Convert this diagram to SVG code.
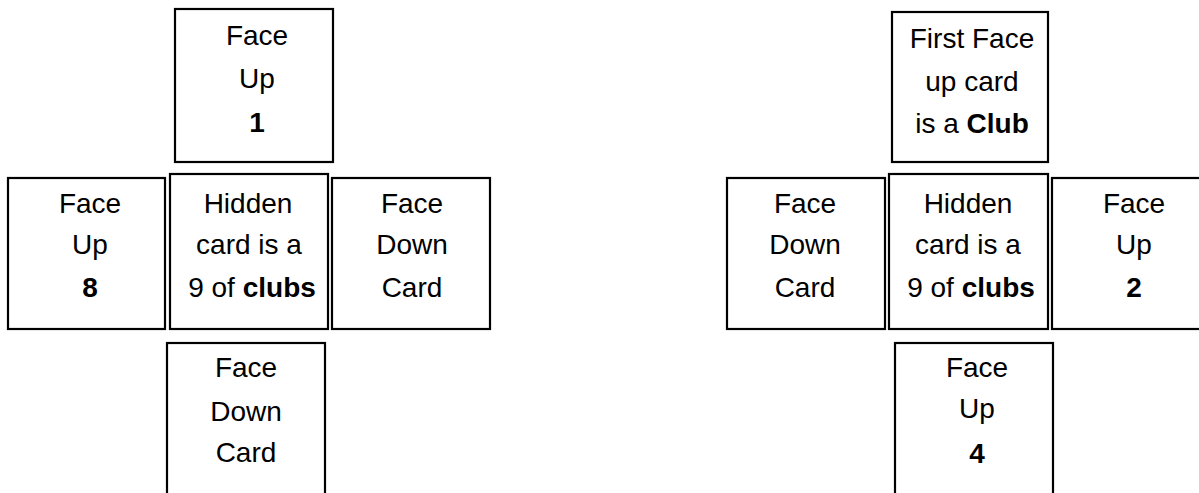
<svg xmlns="http://www.w3.org/2000/svg" width="1199" height="493" viewBox="0 0 1199 493">
  <style>
    .card { fill: #ffffff; stroke: #000000; stroke-width: 2.2; }
    .lbl { font-family: "Liberation Sans", Arial, Helvetica, sans-serif; font-size: 28px; fill: #000000; text-anchor: middle; }
    .b { font-weight: bold; }
  </style>
  <rect width="1199" height="493" fill="#ffffff"/>

  <!-- Left layout -->
  <g id="left-top">
    <rect class="card" x="175" y="9" width="158" height="153"/>
    <text class="lbl" x="257" y="45">Face</text>
    <text class="lbl" x="257" y="88">Up</text>
    <text class="lbl b" x="257" y="132">1</text>
  </g>
  <g id="left-west">
    <rect class="card" x="8" y="178" width="157" height="151"/>
    <text class="lbl" x="90" y="213">Face</text>
    <text class="lbl" x="90" y="254">Up</text>
    <text class="lbl b" x="90" y="297">8</text>
  </g>
  <g id="left-center">
    <rect class="card" x="170" y="174" width="158" height="155"/>
    <text class="lbl" x="248" y="213">Hidden</text>
    <text class="lbl" x="249" y="254">card is a</text>
    <text class="lbl" x="252" y="297">9 of <tspan class="b">clubs</tspan></text>
  </g>
  <g id="left-east">
    <rect class="card" x="332" y="178" width="158" height="151"/>
    <text class="lbl" x="412" y="213">Face</text>
    <text class="lbl" x="412" y="254">Down</text>
    <text class="lbl" x="412" y="297">Card</text>
  </g>
  <g id="left-bottom">
    <rect class="card" x="167" y="343" width="158" height="160"/>
    <text class="lbl" x="246" y="377">Face</text>
    <text class="lbl" x="246" y="421">Down</text>
    <text class="lbl" x="246" y="462">Card</text>
  </g>

  <!-- Right layout -->
  <g id="right-top">
    <rect class="card" x="892" y="12" width="156" height="150"/>
    <text class="lbl" x="972" y="48">First Face</text>
    <text class="lbl" x="972" y="91">up card</text>
    <text class="lbl" x="972" y="133">is a <tspan class="b">Club</tspan></text>
  </g>
  <g id="right-west">
    <rect class="card" x="727" y="178" width="158" height="151"/>
    <text class="lbl" x="805" y="213">Face</text>
    <text class="lbl" x="805" y="254">Down</text>
    <text class="lbl" x="805" y="297">Card</text>
  </g>
  <g id="right-center">
    <rect class="card" x="889" y="174" width="159" height="155"/>
    <text class="lbl" x="968" y="213">Hidden</text>
    <text class="lbl" x="968" y="254">card is a</text>
    <text class="lbl" x="971" y="297">9 of <tspan class="b">clubs</tspan></text>
  </g>
  <g id="right-east">
    <rect class="card" x="1052" y="178" width="158" height="151"/>
    <text class="lbl" x="1134" y="213">Face</text>
    <text class="lbl" x="1134" y="254">Up</text>
    <text class="lbl b" x="1134" y="297">2</text>
  </g>
  <g id="right-bottom">
    <rect class="card" x="895" y="343" width="158" height="160"/>
    <text class="lbl" x="977" y="377">Face</text>
    <text class="lbl" x="977" y="418">Up</text>
    <text class="lbl b" x="977" y="463">4</text>
  </g>

  <g id="connectors"/>
</svg>
